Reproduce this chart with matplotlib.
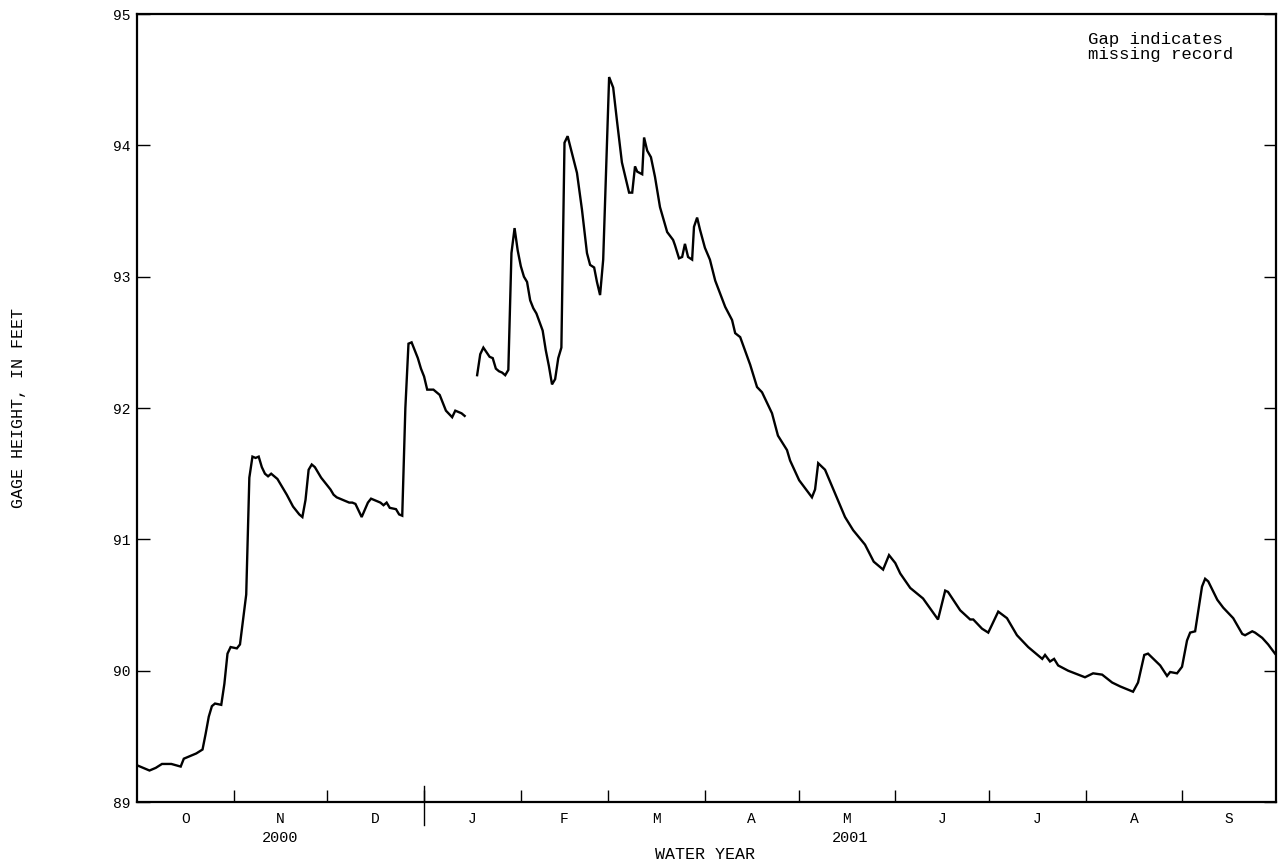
import numpy as np
import matplotlib
matplotlib.use("Agg")
import matplotlib.pyplot as plt
import matplotlib.transforms as mtransforms

plt.rcParams['font.family'] = ['Liberation Mono', 'DejaVu Sans Mono']

# day of water year (0 = Oct 1, 2000) and gage height in feet; NaN = missing record
days = [0, 4, 6, 8, 11, 14, 15, 19, 21, 22, 23, 24, 25, 27, 28, 29, 30, 32, 33, 35,
        36, 37, 38, 39, 40, 41, 42, 43, 44, 45, 47, 48, 50, 52, 53, 54, 55, 56, 57, 59,
        60, 62, 63, 64, 65, 67, 68, 69, 70, 72, 74, 75, 77, 78, 79, 80, 81, 83, 84, 85,
        86, 87, 88, 90, 91, 92, 93, 95, 97, 98, 99, 101, 102, 104, 105,
        107,
        109, 110, 111, 113, 114, 115, 116, 117, 118, 119, 120, 121, 122, 123, 124, 125, 126, 127, 128, 130,
        131, 132, 133, 134, 135, 136, 137, 138, 141, 142.6, 144.2, 145.2, 146.5, 147.4, 148.4, 149.4, 151.3, 152.6, 153.8, 155.4,
        156.4, 157.7, 158.7, 159.6, 160.3, 161.9, 162.5, 163.5, 164.7, 166, 167.6, 169.9, 171.8, 172.4, 173.7, 174.7, 175.6, 176.6, 177.9, 178.5,
        179.5, 180.4, 182, 183.6, 185.3, 188.5, 190.7, 191.7, 193.3, 196.5, 198.7, 200.3, 203.5, 205.4, 208.3, 209.3, 212.2, 216.3, 217.3, 218.3,
        220.5, 223.7, 226.9, 229.5, 233.3, 236.1, 239.1, 241, 243, 244.6, 247.8, 251.9, 256.7, 259, 259.9, 263.8, 267, 268, 270.8, 272.8,
        274, 276, 278.8, 282, 285.6, 290.1, 291, 292.6, 293.9, 295.2, 298.4, 303.8, 306.4, 309.3, 312.5, 315.1, 319.2, 320.8, 322.8, 324,
        327.9, 330.1, 331.1, 333.3, 334.9, 336.5, 337.5, 339.1, 341.3, 342.3, 343.3, 346.2, 348.1, 351.3, 354.2, 355.1, 357.4, 358.3, 360.6, 362.5,
        364.7]
gage = [89.28, 89.24, 89.26, 89.29, 89.29, 89.27, 89.33, 89.37, 89.40, 89.52, 89.65, 89.73, 89.75, 89.74, 89.90, 90.13, 90.18, 90.17, 90.20, 90.58,
        91.47, 91.63, 91.62, 91.63, 91.55, 91.50, 91.48, 91.50, 91.48, 91.46, 91.38, 91.34, 91.25, 91.19, 91.17, 91.30, 91.53, 91.57, 91.55, 91.47,
        91.44, 91.38, 91.34, 91.32, 91.31, 91.29, 91.28, 91.28, 91.27, 91.17, 91.28, 91.31, 91.29, 91.28, 91.26, 91.28, 91.24, 91.23, 91.19, 91.18,
        92.00, 92.49, 92.50, 92.38, 92.30, 92.24, 92.14, 92.14, 92.10, 92.04, 91.98, 91.93, 91.98, 91.96, 91.94,
        np.nan,
        92.25, 92.41, 92.46, 92.39, 92.38, 92.30, 92.28, 92.27, 92.25, 92.29, 93.18, 93.37, 93.20, 93.08, 93.00, 92.96, 92.82, 92.76, 92.72, 92.59,
        92.44, 92.32, 92.18, 92.22, 92.38, 92.46, 94.02, 94.07, 93.79, 93.51, 93.18, 93.09, 93.07, 92.96, 92.86, 93.13, 94.52, 94.44, 94.19, 93.87,
        93.77, 93.64, 93.64, 93.84, 93.80, 93.78, 94.06, 93.96, 93.91, 93.76, 93.53, 93.34, 93.28, 93.24, 93.14, 93.15, 93.25, 93.15, 93.13, 93.38,
        93.45, 93.36, 93.22, 93.13, 92.97, 92.77, 92.67, 92.57, 92.54, 92.33, 92.16, 92.12, 91.96, 91.79, 91.68, 91.60, 91.45, 91.32, 91.38, 91.58,
        91.53, 91.35, 91.17, 91.07, 90.96, 90.83, 90.77, 90.88, 90.82, 90.74, 90.63, 90.55, 90.39, 90.61, 90.60, 90.46, 90.39, 90.39, 90.32, 90.29,
        90.35, 90.45, 90.40, 90.27, 90.18, 90.09, 90.12, 90.07, 90.09, 90.04, 90.00, 89.95, 89.98, 89.97, 89.91, 89.88, 89.84, 89.91, 90.12, 90.13,
        90.04, 89.96, 89.99, 89.98, 90.03, 90.23, 90.29, 90.30, 90.64, 90.70, 90.68, 90.54, 90.48, 90.40, 90.28, 90.27, 90.30, 90.29, 90.25, 90.20,
        90.13]

month_starts = [0, 31, 61, 92, 123, 151, 182, 212, 243, 273, 304, 335, 365]
month_labels = ['O', 'N', 'D', 'J', 'F', 'M', 'A', 'M', 'J', 'J', 'A', 'S']
year_labels = ['2000', '2001']
y_ticks = [89, 90, 91, 92, 93, 94, 95]

fig = plt.figure(figsize=(12.78, 8.6), dpi=100)
ax = fig.add_axes([0.1072, 0.0674, 0.8912, 0.9163])

ax.plot(days, gage, color='black', lw=1.7, solid_joinstyle='miter')

ax.set_xlim(0, 365)
ax.set_ylim(89, 95)

# month boundary ticks and centered month letters
ax.set_xticks(month_starts[1:-1])
ax.set_xticklabels([])
ax.tick_params(axis='x', which='major', direction='in', length=9, width=1, top=False)
centers = [(a + b) / 2 for a, b in zip(month_starts[:-1], month_starts[1:])]
ax.set_xticks(centers, minor=True)
ax.set_xticklabels(month_labels, minor=True, fontsize=10.5)
ax.tick_params(axis='x', which='minor', length=0, pad=7)

ax.set_yticks(y_ticks)
ax.set_yticklabels([str(v) for v in y_ticks], fontsize=10.5)
ax.tick_params(axis='y', direction='in', length=9, width=1, left=True, right=True, pad=5)

for s in ax.spines.values():
    s.set_linewidth(1.6)

# year divider and year labels
trans = mtransforms.blended_transform_factory(ax.transData, ax.transAxes)
ax.plot([92, 92], [-0.029, 0.02], color='black', lw=1, transform=trans, clip_on=False)
ax.text(46, -0.046, year_labels[0], transform=trans, ha='center', va='center', fontsize=11)
ax.text(228.5, -0.046, year_labels[1], transform=trans, ha='center', va='center', fontsize=11)

ax.text(0.499, -0.067, 'WATER YEAR', transform=ax.transAxes, ha='center', va='center', fontsize=12)
fig.text(0.0145, 0.5256, 'GAGE HEIGHT, IN FEET', rotation=90, ha='center', va='center', fontsize=12)

ax.text(0.835, 0.977, 'Gap indicates\nmissing record', transform=ax.transAxes,
        ha='left', va='top', fontsize=12.5, linespacing=0.95)

fig.savefig('out.png', dpi=100)
